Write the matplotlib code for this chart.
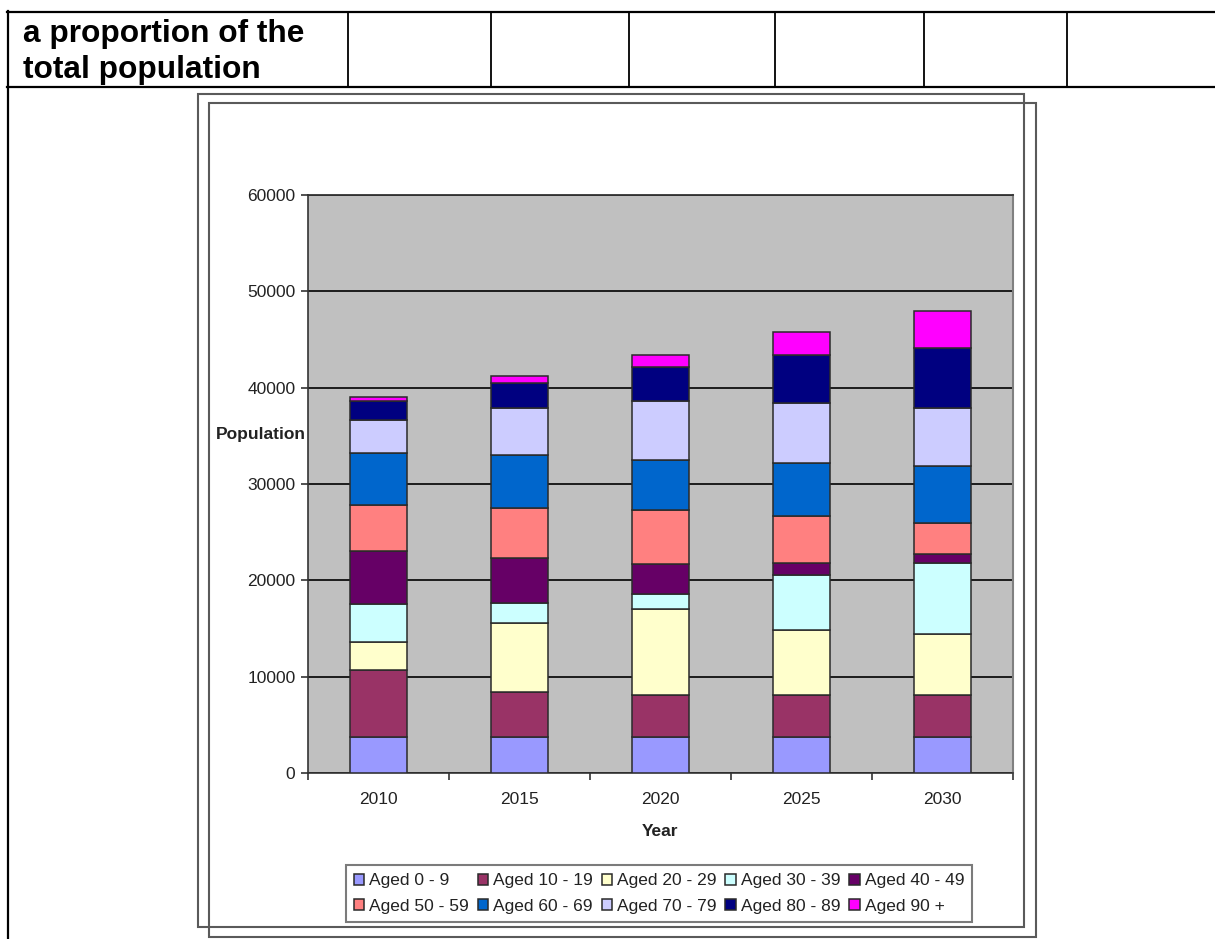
"""Stacked population by age band, 2010-2030, inside a document table cell."""
import numpy as np
import matplotlib
matplotlib.use("Agg")
import matplotlib.pyplot as plt
from matplotlib.lines import Line2D
from matplotlib.patches import Rectangle

plt.rcParams["font.family"] = ["Liberation Sans", "DejaVu Sans"]

years = ["2010", "2015", "2020", "2025", "2030"]
age_bands = ["Aged 0 - 9", "Aged 10 - 19", "Aged 20 - 29", "Aged 30 - 39", "Aged 40 - 49",
             "Aged 50 - 59", "Aged 60 - 69", "Aged 70 - 79", "Aged 80 - 89", "Aged 90 +"]
aged_0_9 = [3700, 3700, 3700, 3700, 3700]
aged_10_19 = [7040, 4720, 4440, 4440, 4440]
aged_20_29 = [2880, 7180, 8840, 6660, 6240]
aged_30_39 = [3950, 2000, 1560, 5720, 7380]
aged_40_49 = [5470, 4760, 3190, 1310, 940]
aged_50_59 = [4750, 5120, 5540, 4850, 3300]
aged_60_69 = [5380, 5550, 5200, 5550, 5880]
aged_70_79 = [3460, 4850, 6110, 6170, 6000]
aged_80_89 = [1950, 2600, 3600, 4990, 6240]
aged_90_plus = [400, 700, 1210, 2420, 3880]
series = [aged_0_9, aged_10_19, aged_20_29, aged_30_39, aged_40_49,
          aged_50_59, aged_60_69, aged_70_79, aged_80_89, aged_90_plus]
colors = ["#9999FF", "#993366", "#FFFFCC", "#CCFFFF", "#660066",
          "#FF8080", "#0066CC", "#CCCCFF", "#000080", "#FF00FF"]
yticks = [0, 10000, 20000, 30000, 40000, 50000, 60000]

W, H = 1215, 939
fig = plt.figure(figsize=(W / 100, H / 100), dpi=100, facecolor="white")


def fx(x):
    return x / W


def fy(y):
    return 1 - y / H


def hline(y, x0, x1, **kw):
    fig.add_artist(Line2D([fx(x0), fx(x1)], [fy(y), fy(y)], transform=fig.transFigure, **kw))


def vline(x, y0, y1, **kw):
    fig.add_artist(Line2D([fx(x), fx(x)], [fy(y0), fy(y1)], transform=fig.transFigure, **kw))


# the surrounding document table
hline(12, 7, W, color="black", lw=1.6)
hline(86.5, 7, W, color="black", lw=1.6)
vline(8, 11, H, color="black", lw=1.6)
for x in [348, 491, 629, 775, 924, 1067]:
    vline(x, 12, 86.5, color="black", lw=1.3)
fig.text(fx(23), fy(42), "a proportion of the", fontsize=22.8, fontweight="bold", va="baseline")
fig.text(fx(23), fy(78), "total population", fontsize=22.8, fontweight="bold", va="baseline")

# chart frames (offset double box)
for (x0, y0, x1, y1) in [(198, 94, 1024, 927), (209, 103, 1036, 937)]:
    fig.add_artist(Rectangle((fx(x0), fy(y1)), fx(x1) - fx(x0), fy(y0) - fy(y1),
                             transform=fig.transFigure, fill=False, ec="#5a5a5a", lw=1.5))

L, R, T, B = 308, 1013, 195, 773
ax = fig.add_axes([fx(L), fy(B), fx(R) - fx(L), fy(T) - fy(B)])
ax.set_facecolor("#C0C0C0")
x = np.arange(len(years))
bottom = np.zeros(len(years))
handles = []
for lab, vals, c in zip(age_bands, series, colors):
    b = ax.bar(x, vals, width=0.41, bottom=bottom, color=c, edgecolor="#2a2a2a", lw=1.1,
               label=lab, zorder=3)
    handles.append(b)
    bottom += np.array(vals)

ax.set_xlim(-0.5, len(years) - 0.5)
ax.set_ylim(0, 60000)
ax.set_yticks(yticks)
ax.set_yticklabels([str(v) for v in yticks])
ax.yaxis.grid(True, color="black", lw=1.2, zorder=1)
ax.set_axisbelow(True)
ax.set_xticks(np.arange(-0.5, len(years)), minor=False)
ax.set_xticklabels([])
ax.set_xticks(x, minor=True)
ax.set_xticklabels(years, minor=True)
ax.tick_params(axis="x", which="major", direction="out", length=5, width=1.2, color="#333")
ax.tick_params(axis="x", which="minor", length=0, pad=14, labelsize=12.5, labelcolor="#222")
ax.tick_params(axis="y", direction="out", length=5, width=1.2, pad=4, labelsize=12.5,
               labelcolor="#222", color="#333")
ax.spines["top"].set_color("#333")
ax.spines["top"].set_linewidth(1.3)
ax.spines["right"].set_color("#808080")
ax.spines["right"].set_linewidth(1.5)
for s in ["left", "bottom"]:
    ax.spines[s].set_color("#333")
    ax.spines[s].set_linewidth(1.2)

ax.set_ylabel("Population", rotation=0, fontsize=12.5, fontweight="bold", ha="right",
              va="center", color="#222")
ax.yaxis.set_label_coords((306 - L) / (R - L), (B - 434) / (B - T))
ax.set_xlabel("Year", fontsize=12.5, fontweight="bold", va="center", color="#222")
ax.xaxis.set_label_coords(0.5, (B - 831) / (B - T))

order = [0, 5, 1, 6, 2, 7, 3, 8, 4, 9]
leg = fig.legend([handles[i] for i in order], [age_bands[i] for i in order],
                 ncol=5, loc="center", bbox_to_anchor=(fx(659), fy(893.5)),
                 fontsize=12.5, frameon=True, fancybox=False, edgecolor="#5a5a5a",
                 handlelength=0.6, handleheight=0.6, handletextpad=0.3,
                 columnspacing=0.5, labelspacing=0.6, borderpad=0.45, borderaxespad=0)
leg.get_frame().set_linewidth(1.5)
for t in leg.get_texts():
    t.set_color("#222")

fig.savefig("out.png", dpi=100, facecolor="white")
